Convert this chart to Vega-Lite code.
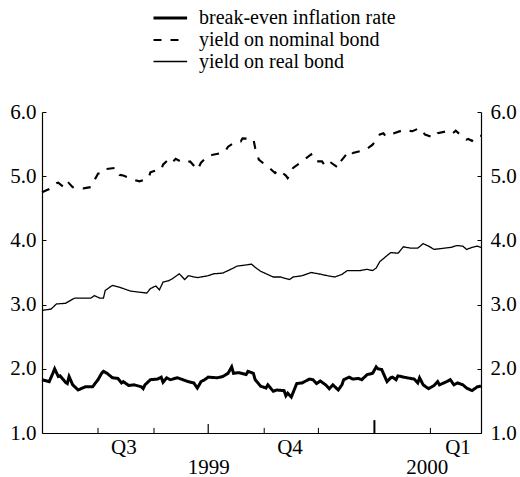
{
  "$schema": "https://vega.github.io/schema/vega-lite/v6.json",
  "width": 439,
  "height": 321,
  "autosize": {"type": "none"},
  "padding": {"left": 42, "top": 112, "right": 39, "bottom": 44},
  "background": "white",
  "config": {
    "view": {"stroke": null},
    "font": "Liberation Serif",
    "axis": {"labelFont": "Liberation Serif", "labelFontSize": 21, "labelColor": "black", "domainColor": "black", "domainWidth": 1.2, "tickColor": "black", "grid": false, "title": null},
    "legend": {"labelFont": "Liberation Serif, Times New Roman, serif", "labelFontSize": 20, "labelColor": "black", "labelLimit": 0}
  },
  "datasets": {
    "series": [
      {"date": "1999-07-01", "series": "yield on real bond", "value": 2.91},
      {"date": "1999-07-06", "series": "yield on real bond", "value": 2.93},
      {"date": "1999-07-09", "series": "yield on real bond", "value": 3.01},
      {"date": "1999-07-14", "series": "yield on real bond", "value": 3.02},
      {"date": "1999-07-19", "series": "yield on real bond", "value": 3.10},
      {"date": "1999-07-28", "series": "yield on real bond", "value": 3.10},
      {"date": "1999-07-30", "series": "yield on real bond", "value": 3.14},
      {"date": "1999-08-02", "series": "yield on real bond", "value": 3.10},
      {"date": "1999-08-04", "series": "yield on real bond", "value": 3.10},
      {"date": "1999-08-05", "series": "yield on real bond", "value": 3.22},
      {"date": "1999-08-09", "series": "yield on real bond", "value": 3.30},
      {"date": "1999-08-14", "series": "yield on real bond", "value": 3.26},
      {"date": "1999-08-19", "series": "yield on real bond", "value": 3.21},
      {"date": "1999-08-28", "series": "yield on real bond", "value": 3.18},
      {"date": "1999-08-30", "series": "yield on real bond", "value": 3.25},
      {"date": "1999-09-02", "series": "yield on real bond", "value": 3.29},
      {"date": "1999-09-04", "series": "yield on real bond", "value": 3.23},
      {"date": "1999-09-06", "series": "yield on real bond", "value": 3.35},
      {"date": "1999-09-09", "series": "yield on real bond", "value": 3.37},
      {"date": "1999-09-11", "series": "yield on real bond", "value": 3.40},
      {"date": "1999-09-15", "series": "yield on real bond", "value": 3.48},
      {"date": "1999-09-18", "series": "yield on real bond", "value": 3.39},
      {"date": "1999-09-20", "series": "yield on real bond", "value": 3.45},
      {"date": "1999-09-25", "series": "yield on real bond", "value": 3.42},
      {"date": "1999-10-01", "series": "yield on real bond", "value": 3.45},
      {"date": "1999-10-04", "series": "yield on real bond", "value": 3.48},
      {"date": "1999-10-09", "series": "yield on real bond", "value": 3.49},
      {"date": "1999-10-12", "series": "yield on real bond", "value": 3.53},
      {"date": "1999-10-15", "series": "yield on real bond", "value": 3.57},
      {"date": "1999-10-17", "series": "yield on real bond", "value": 3.60},
      {"date": "1999-10-20", "series": "yield on real bond", "value": 3.61},
      {"date": "1999-10-25", "series": "yield on real bond", "value": 3.63},
      {"date": "1999-10-27", "series": "yield on real bond", "value": 3.58},
      {"date": "1999-10-30", "series": "yield on real bond", "value": 3.52},
      {"date": "1999-11-06", "series": "yield on real bond", "value": 3.43},
      {"date": "1999-11-10", "series": "yield on real bond", "value": 3.43},
      {"date": "1999-11-15", "series": "yield on real bond", "value": 3.39},
      {"date": "1999-11-17", "series": "yield on real bond", "value": 3.43},
      {"date": "1999-11-22", "series": "yield on real bond", "value": 3.45},
      {"date": "1999-11-27", "series": "yield on real bond", "value": 3.50},
      {"date": "1999-12-01", "series": "yield on real bond", "value": 3.48},
      {"date": "1999-12-06", "series": "yield on real bond", "value": 3.45},
      {"date": "1999-12-10", "series": "yield on real bond", "value": 3.43},
      {"date": "1999-12-14", "series": "yield on real bond", "value": 3.47},
      {"date": "1999-12-17", "series": "yield on real bond", "value": 3.53},
      {"date": "1999-12-24", "series": "yield on real bond", "value": 3.53},
      {"date": "1999-12-28", "series": "yield on real bond", "value": 3.55},
      {"date": "1999-12-31", "series": "yield on real bond", "value": 3.53},
      {"date": "2000-01-02", "series": "yield on real bond", "value": 3.57},
      {"date": "2000-01-04", "series": "yield on real bond", "value": 3.67},
      {"date": "2000-01-07", "series": "yield on real bond", "value": 3.74},
      {"date": "2000-01-10", "series": "yield on real bond", "value": 3.81},
      {"date": "2000-01-14", "series": "yield on real bond", "value": 3.80},
      {"date": "2000-01-15", "series": "yield on real bond", "value": 3.83},
      {"date": "2000-01-17", "series": "yield on real bond", "value": 3.90},
      {"date": "2000-01-21", "series": "yield on real bond", "value": 3.88},
      {"date": "2000-01-25", "series": "yield on real bond", "value": 3.88},
      {"date": "2000-01-28", "series": "yield on real bond", "value": 3.95},
      {"date": "2000-01-31", "series": "yield on real bond", "value": 3.91},
      {"date": "2000-02-03", "series": "yield on real bond", "value": 3.86},
      {"date": "2000-02-06", "series": "yield on real bond", "value": 3.87},
      {"date": "2000-02-12", "series": "yield on real bond", "value": 3.89},
      {"date": "2000-02-16", "series": "yield on real bond", "value": 3.92},
      {"date": "2000-02-19", "series": "yield on real bond", "value": 3.91},
      {"date": "2000-02-21", "series": "yield on real bond", "value": 3.86},
      {"date": "2000-02-24", "series": "yield on real bond", "value": 3.89},
      {"date": "2000-02-27", "series": "yield on real bond", "value": 3.91},
      {"date": "2000-02-29", "series": "yield on real bond", "value": 3.89},

      {"date": "1999-07-01", "series": "yield on nominal bond", "value": 4.75},
      {"date": "1999-07-05", "series": "yield on nominal bond", "value": 4.80},
      {"date": "1999-07-09", "series": "yield on nominal bond", "value": 4.89},
      {"date": "1999-07-10", "series": "yield on nominal bond", "value": 4.90},
      {"date": "1999-07-13", "series": "yield on nominal bond", "value": 4.83},
      {"date": "1999-07-15", "series": "yield on nominal bond", "value": 4.92},
      {"date": "1999-07-18", "series": "yield on nominal bond", "value": 4.83},
      {"date": "1999-07-24", "series": "yield on nominal bond", "value": 4.81},
      {"date": "1999-07-28", "series": "yield on nominal bond", "value": 4.83},
      {"date": "1999-08-01", "series": "yield on nominal bond", "value": 5.04},
      {"date": "1999-08-04", "series": "yield on nominal bond", "value": 5.06},
      {"date": "1999-08-05", "series": "yield on nominal bond", "value": 5.11},
      {"date": "1999-08-11", "series": "yield on nominal bond", "value": 5.13},
      {"date": "1999-08-13", "series": "yield on nominal bond", "value": 5.02},
      {"date": "1999-08-15", "series": "yield on nominal bond", "value": 5.01},
      {"date": "1999-08-20", "series": "yield on nominal bond", "value": 4.95},
      {"date": "1999-08-24", "series": "yield on nominal bond", "value": 4.92},
      {"date": "1999-08-29", "series": "yield on nominal bond", "value": 4.97},
      {"date": "1999-08-30", "series": "yield on nominal bond", "value": 5.06},
      {"date": "1999-09-02", "series": "yield on nominal bond", "value": 5.09},
      {"date": "1999-09-05", "series": "yield on nominal bond", "value": 5.10},
      {"date": "1999-09-06", "series": "yield on nominal bond", "value": 5.18},
      {"date": "1999-09-09", "series": "yield on nominal bond", "value": 5.26},
      {"date": "1999-09-11", "series": "yield on nominal bond", "value": 5.21},
      {"date": "1999-09-13", "series": "yield on nominal bond", "value": 5.27},
      {"date": "1999-09-17", "series": "yield on nominal bond", "value": 5.21},
      {"date": "1999-09-21", "series": "yield on nominal bond", "value": 5.23},
      {"date": "1999-09-25", "series": "yield on nominal bond", "value": 5.10},
      {"date": "1999-09-27", "series": "yield on nominal bond", "value": 5.21},
      {"date": "1999-10-01", "series": "yield on nominal bond", "value": 5.32},
      {"date": "1999-10-03", "series": "yield on nominal bond", "value": 5.33},
      {"date": "1999-10-10", "series": "yield on nominal bond", "value": 5.37},
      {"date": "1999-10-12", "series": "yield on nominal bond", "value": 5.46},
      {"date": "1999-10-16", "series": "yield on nominal bond", "value": 5.53},
      {"date": "1999-10-19", "series": "yield on nominal bond", "value": 5.54},
      {"date": "1999-10-20", "series": "yield on nominal bond", "value": 5.59},
      {"date": "1999-10-26", "series": "yield on nominal bond", "value": 5.58},
      {"date": "1999-10-27", "series": "yield on nominal bond", "value": 5.44},
      {"date": "1999-10-29", "series": "yield on nominal bond", "value": 5.26},
      {"date": "1999-11-01", "series": "yield on nominal bond", "value": 5.19},
      {"date": "1999-11-05", "series": "yield on nominal bond", "value": 5.10},
      {"date": "1999-11-07", "series": "yield on nominal bond", "value": 5.05},
      {"date": "1999-11-09", "series": "yield on nominal bond", "value": 5.10},
      {"date": "1999-11-13", "series": "yield on nominal bond", "value": 5.01},
      {"date": "1999-11-14", "series": "yield on nominal bond", "value": 4.97},
      {"date": "1999-11-15", "series": "yield on nominal bond", "value": 5.01},
      {"date": "1999-11-17", "series": "yield on nominal bond", "value": 5.13},
      {"date": "1999-11-21", "series": "yield on nominal bond", "value": 5.21},
      {"date": "1999-11-27", "series": "yield on nominal bond", "value": 5.34},
      {"date": "1999-11-29", "series": "yield on nominal bond", "value": 5.23},
      {"date": "1999-12-03", "series": "yield on nominal bond", "value": 5.23},
      {"date": "1999-12-05", "series": "yield on nominal bond", "value": 5.15},
      {"date": "1999-12-08", "series": "yield on nominal bond", "value": 5.21},
      {"date": "1999-12-12", "series": "yield on nominal bond", "value": 5.13},
      {"date": "1999-12-13", "series": "yield on nominal bond", "value": 5.22},
      {"date": "1999-12-17", "series": "yield on nominal bond", "value": 5.36},
      {"date": "1999-12-19", "series": "yield on nominal bond", "value": 5.40},
      {"date": "1999-12-20", "series": "yield on nominal bond", "value": 5.36},
      {"date": "1999-12-27", "series": "yield on nominal bond", "value": 5.41},
      {"date": "1999-12-31", "series": "yield on nominal bond", "value": 5.49},
      {"date": "2000-01-04", "series": "yield on nominal bond", "value": 5.65},
      {"date": "2000-01-06", "series": "yield on nominal bond", "value": 5.67},
      {"date": "2000-01-07", "series": "yield on nominal bond", "value": 5.63},
      {"date": "2000-01-10", "series": "yield on nominal bond", "value": 5.67},
      {"date": "2000-01-11", "series": "yield on nominal bond", "value": 5.66},
      {"date": "2000-01-17", "series": "yield on nominal bond", "value": 5.72},
      {"date": "2000-01-22", "series": "yield on nominal bond", "value": 5.70},
      {"date": "2000-01-26", "series": "yield on nominal bond", "value": 5.75},
      {"date": "2000-01-29", "series": "yield on nominal bond", "value": 5.65},
      {"date": "2000-02-03", "series": "yield on nominal bond", "value": 5.60},
      {"date": "2000-02-05", "series": "yield on nominal bond", "value": 5.67},
      {"date": "2000-02-10", "series": "yield on nominal bond", "value": 5.70},
      {"date": "2000-02-13", "series": "yield on nominal bond", "value": 5.66},
      {"date": "2000-02-15", "series": "yield on nominal bond", "value": 5.71},
      {"date": "2000-02-19", "series": "yield on nominal bond", "value": 5.61},
      {"date": "2000-02-21", "series": "yield on nominal bond", "value": 5.57},
      {"date": "2000-02-22", "series": "yield on nominal bond", "value": 5.58},
      {"date": "2000-02-24", "series": "yield on nominal bond", "value": 5.55},
      {"date": "2000-02-26", "series": "yield on nominal bond", "value": 5.62},
      {"date": "2000-02-29", "series": "yield on nominal bond", "value": 5.63},

      {"date": "1999-07-01", "series": "break-even inflation rate", "value": 1.83},
      {"date": "1999-07-05", "series": "break-even inflation rate", "value": 1.80},
      {"date": "1999-07-07", "series": "break-even inflation rate", "value": 1.93},
      {"date": "1999-07-08", "series": "break-even inflation rate", "value": 2.00},
      {"date": "1999-07-10", "series": "break-even inflation rate", "value": 1.88},
      {"date": "1999-07-11", "series": "break-even inflation rate", "value": 1.89},
      {"date": "1999-07-14", "series": "break-even inflation rate", "value": 1.79},
      {"date": "1999-07-15", "series": "break-even inflation rate", "value": 1.77},
      {"date": "1999-07-16", "series": "break-even inflation rate", "value": 1.88},
      {"date": "1999-07-18", "series": "break-even inflation rate", "value": 1.75},
      {"date": "1999-07-21", "series": "break-even inflation rate", "value": 1.67},
      {"date": "1999-07-25", "series": "break-even inflation rate", "value": 1.72},
      {"date": "1999-07-29", "series": "break-even inflation rate", "value": 1.72},
      {"date": "1999-08-01", "series": "break-even inflation rate", "value": 1.83},
      {"date": "1999-08-03", "series": "break-even inflation rate", "value": 1.93},
      {"date": "1999-08-04", "series": "break-even inflation rate", "value": 1.96},
      {"date": "1999-08-06", "series": "break-even inflation rate", "value": 1.93},
      {"date": "1999-08-09", "series": "break-even inflation rate", "value": 1.86},
      {"date": "1999-08-12", "series": "break-even inflation rate", "value": 1.85},
      {"date": "1999-08-14", "series": "break-even inflation rate", "value": 1.78},
      {"date": "1999-08-15", "series": "break-even inflation rate", "value": 1.80},
      {"date": "1999-08-18", "series": "break-even inflation rate", "value": 1.74},
      {"date": "1999-08-21", "series": "break-even inflation rate", "value": 1.75},
      {"date": "1999-08-25", "series": "break-even inflation rate", "value": 1.72},
      {"date": "1999-08-26", "series": "break-even inflation rate", "value": 1.69},
      {"date": "1999-08-27", "series": "break-even inflation rate", "value": 1.75},
      {"date": "1999-08-30", "series": "break-even inflation rate", "value": 1.83},
      {"date": "1999-09-03", "series": "break-even inflation rate", "value": 1.84},
      {"date": "1999-09-05", "series": "break-even inflation rate", "value": 1.87},
      {"date": "1999-09-06", "series": "break-even inflation rate", "value": 1.79},
      {"date": "1999-09-08", "series": "break-even inflation rate", "value": 1.86},
      {"date": "1999-09-10", "series": "break-even inflation rate", "value": 1.83},
      {"date": "1999-09-14", "series": "break-even inflation rate", "value": 1.86},
      {"date": "1999-09-17", "series": "break-even inflation rate", "value": 1.83},
      {"date": "1999-09-20", "series": "break-even inflation rate", "value": 1.80},
      {"date": "1999-09-23", "series": "break-even inflation rate", "value": 1.78},
      {"date": "1999-09-25", "series": "break-even inflation rate", "value": 1.70},
      {"date": "1999-09-27", "series": "break-even inflation rate", "value": 1.80},
      {"date": "1999-09-29", "series": "break-even inflation rate", "value": 1.83},
      {"date": "1999-10-01", "series": "break-even inflation rate", "value": 1.87},
      {"date": "1999-10-06", "series": "break-even inflation rate", "value": 1.86},
      {"date": "1999-10-09", "series": "break-even inflation rate", "value": 1.88},
      {"date": "1999-10-12", "series": "break-even inflation rate", "value": 1.93},
      {"date": "1999-10-14", "series": "break-even inflation rate", "value": 2.03},
      {"date": "1999-10-15", "series": "break-even inflation rate", "value": 1.93},
      {"date": "1999-10-18", "series": "break-even inflation rate", "value": 1.94},
      {"date": "1999-10-22", "series": "break-even inflation rate", "value": 1.91},
      {"date": "1999-10-23", "series": "break-even inflation rate", "value": 1.96},
      {"date": "1999-10-26", "series": "break-even inflation rate", "value": 1.93},
      {"date": "1999-10-27", "series": "break-even inflation rate", "value": 1.83},
      {"date": "1999-10-30", "series": "break-even inflation rate", "value": 1.73},
      {"date": "1999-11-02", "series": "break-even inflation rate", "value": 1.70},
      {"date": "1999-11-03", "series": "break-even inflation rate", "value": 1.75},
      {"date": "1999-11-06", "series": "break-even inflation rate", "value": 1.65},
      {"date": "1999-11-08", "series": "break-even inflation rate", "value": 1.67},
      {"date": "1999-11-12", "series": "break-even inflation rate", "value": 1.66},
      {"date": "1999-11-13", "series": "break-even inflation rate", "value": 1.58},
      {"date": "1999-11-14", "series": "break-even inflation rate", "value": 1.62},
      {"date": "1999-11-16", "series": "break-even inflation rate", "value": 1.56},
      {"date": "1999-11-19", "series": "break-even inflation rate", "value": 1.77},
      {"date": "1999-11-22", "series": "break-even inflation rate", "value": 1.78},
      {"date": "1999-11-26", "series": "break-even inflation rate", "value": 1.84},
      {"date": "1999-11-28", "series": "break-even inflation rate", "value": 1.83},
      {"date": "1999-11-30", "series": "break-even inflation rate", "value": 1.77},
      {"date": "1999-12-02", "series": "break-even inflation rate", "value": 1.81},
      {"date": "1999-12-05", "series": "break-even inflation rate", "value": 1.75},
      {"date": "1999-12-07", "series": "break-even inflation rate", "value": 1.69},
      {"date": "1999-12-09", "series": "break-even inflation rate", "value": 1.75},
      {"date": "1999-12-12", "series": "break-even inflation rate", "value": 1.67},
      {"date": "1999-12-14", "series": "break-even inflation rate", "value": 1.75},
      {"date": "1999-12-15", "series": "break-even inflation rate", "value": 1.83},
      {"date": "1999-12-18", "series": "break-even inflation rate", "value": 1.87},
      {"date": "1999-12-20", "series": "break-even inflation rate", "value": 1.84},
      {"date": "1999-12-23", "series": "break-even inflation rate", "value": 1.85},
      {"date": "1999-12-25", "series": "break-even inflation rate", "value": 1.83},
      {"date": "1999-12-28", "series": "break-even inflation rate", "value": 1.91},
      {"date": "1999-12-31", "series": "break-even inflation rate", "value": 1.93},
      {"date": "2000-01-02", "series": "break-even inflation rate", "value": 2.03},
      {"date": "2000-01-03", "series": "break-even inflation rate", "value": 2.00},
      {"date": "2000-01-05", "series": "break-even inflation rate", "value": 1.99},
      {"date": "2000-01-08", "series": "break-even inflation rate", "value": 1.80},
      {"date": "2000-01-10", "series": "break-even inflation rate", "value": 1.86},
      {"date": "2000-01-11", "series": "break-even inflation rate", "value": 1.87},
      {"date": "2000-01-13", "series": "break-even inflation rate", "value": 1.83},
      {"date": "2000-01-14", "series": "break-even inflation rate", "value": 1.89},
      {"date": "2000-01-19", "series": "break-even inflation rate", "value": 1.86},
      {"date": "2000-01-23", "series": "break-even inflation rate", "value": 1.84},
      {"date": "2000-01-25", "series": "break-even inflation rate", "value": 1.78},
      {"date": "2000-01-26", "series": "break-even inflation rate", "value": 1.86},
      {"date": "2000-01-28", "series": "break-even inflation rate", "value": 1.75},
      {"date": "2000-01-31", "series": "break-even inflation rate", "value": 1.69},
      {"date": "2000-02-03", "series": "break-even inflation rate", "value": 1.74},
      {"date": "2000-02-05", "series": "break-even inflation rate", "value": 1.80},
      {"date": "2000-02-06", "series": "break-even inflation rate", "value": 1.75},
      {"date": "2000-02-10", "series": "break-even inflation rate", "value": 1.80},
      {"date": "2000-02-12", "series": "break-even inflation rate", "value": 1.83},
      {"date": "2000-02-14", "series": "break-even inflation rate", "value": 1.75},
      {"date": "2000-02-16", "series": "break-even inflation rate", "value": 1.78},
      {"date": "2000-02-19", "series": "break-even inflation rate", "value": 1.75},
      {"date": "2000-02-21", "series": "break-even inflation rate", "value": 1.70},
      {"date": "2000-02-24", "series": "break-even inflation rate", "value": 1.66},
      {"date": "2000-02-27", "series": "break-even inflation rate", "value": 1.72},
      {"date": "2000-02-29", "series": "break-even inflation rate", "value": 1.73}
    ],
    "ticks": [
      {"date": "1999-08-01", "kind": "month"},
      {"date": "1999-09-01", "kind": "month"},
      {"date": "1999-11-01", "kind": "month"},
      {"date": "1999-12-01", "kind": "month"},
      {"date": "2000-02-01", "kind": "month"},
      {"date": "1999-10-01", "kind": "quarter"},
      {"date": "2000-01-01", "kind": "year"}
    ]
  },
  "resolve": {"axis": {"y": "independent"}},
  "layer": [
    {
      "data": {"name": "series"},
      "mark": {"type": "line", "interpolate": "linear"},
      "encoding": {
        "x": {
          "field": "date", "type": "temporal",
          "scale": {"domain": [{"year": 1999, "month": 7, "date": 1}, {"year": 2000, "month": 2, "date": 29}]},
          "axis": {
            "values": [{"year": 1999, "month": 8, "date": 15}, {"year": 1999, "month": 10, "date": 1}, {"year": 1999, "month": 11, "date": 15}, {"year": 2000, "month": 1, "date": 30}, {"year": 2000, "month": 2, "date": 16}],
            "ticks": false, "labelPadding": 3, "labelLineHeight": 20, "labelOverlap": false, "labelFlush": false, "labelBound": false, "labelAngle": 0,
            "labelExpr": "month(datum.value)==7 ? 'Q3' : month(datum.value)==10 ? 'Q4' : month(datum.value)==1 ? 'Q1' : month(datum.value)==9 ? ['', '1999'] : ['', '2000']"
          }
        },
        "y": {
          "field": "value", "type": "quantitative",
          "scale": {"domain": [1, 6], "nice": false, "zero": false},
          "axis": {"orient": "left", "values": [1, 2, 3, 4, 5, 6], "format": ".1f", "tickSize": -4, "labelPadding": 10}
        },
        "color": {"field": "series", "type": "nominal", "scale": {"range": ["black", "black", "black"]},
          "legend": {"orient": "none", "legendX": 110, "legendY": -106, "title": null, "symbolType": "M-1,0H2.2", "symbolSize": 441, "symbolStrokeColor": "black", "symbolFillColor": "transparent", "labelFont": "Liberation Serif, Times New Roman, serif", "labelFontSize": 20, "labelColor": "black", "labelLimit": 0, "rowPadding": -1.5, "labelOffset": 23, "padding": 0}},
        "strokeDash": {"field": "series", "type": "nominal", "scale": {"range": [[1, 0], [8, 9], [1, 0]]}},
        "strokeWidth": {"field": "series", "type": "nominal", "scale": {"range": [3, 1.3, 1.2]}}
      }
    },
    {
      "data": {"name": "ticks"},
      "transform": [{"filter": "datum.kind == 'month'"}],
      "mark": {"type": "rule", "color": "black", "strokeWidth": 1},
      "encoding": {
        "x": {"field": "date", "type": "temporal"},
        "y": {"datum": 1, "type": "quantitative", "scale": {"domain": [1, 6], "nice": false, "zero": false},
              "axis": {"orient": "right", "values": [1, 2, 3, 4, 5, 6], "format": ".1f", "tickSize": -4, "labelPadding": 13}},
        "y2": {"datum": 1.08}
      }
    },
    {
      "data": {"name": "ticks"},
      "transform": [{"filter": "datum.kind == 'quarter'"}],
      "mark": {"type": "rule", "color": "black", "strokeWidth": 1.2},
      "encoding": {
        "x": {"field": "date", "type": "temporal"},
        "y": {"datum": 1, "type": "quantitative", "axis": null},
        "y2": {"datum": 1.14}
      }
    },
    {
      "data": {"name": "ticks"},
      "transform": [{"filter": "datum.kind == 'year'"}],
      "mark": {"type": "rule", "color": "black", "strokeWidth": 2},
      "encoding": {
        "x": {"field": "date", "type": "temporal"},
        "y": {"datum": 1, "type": "quantitative", "axis": null},
        "y2": {"datum": 1.2}
      }
    }
  ]
}
